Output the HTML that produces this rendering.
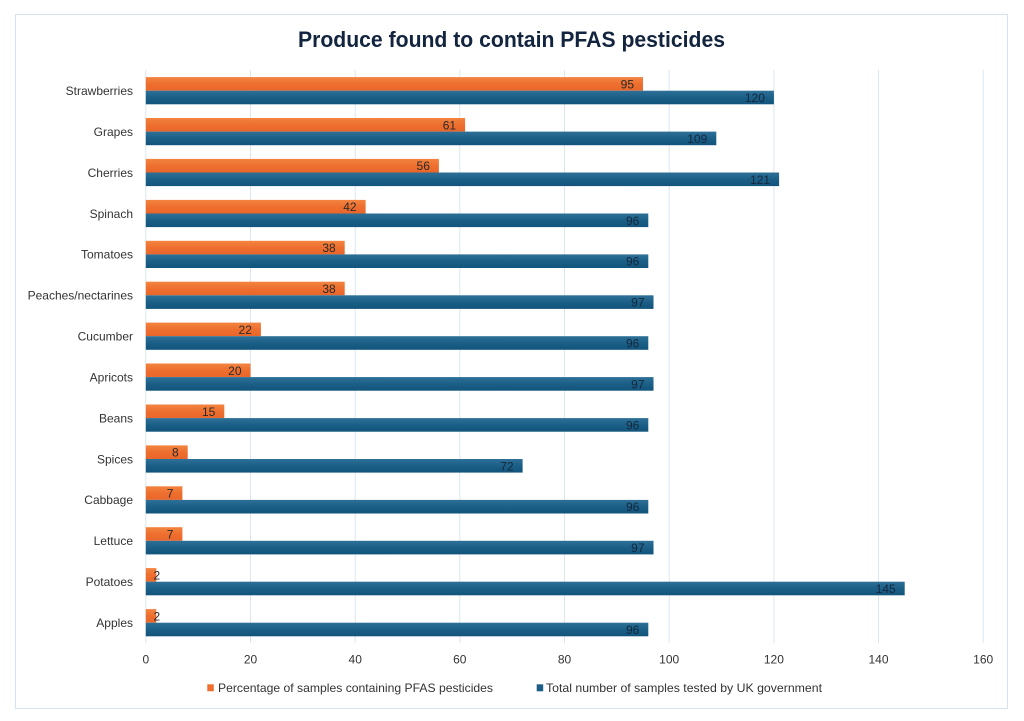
<!DOCTYPE html>
<html>
<head>
<meta charset="utf-8">
<style>
  html,body{margin:0;padding:0;background:#fff;}
  svg{display:block;}
  text{font-family:"Liberation Sans",Arial,sans-serif;}
</style>
</head>
<body>
<svg width="1024" height="721" viewBox="0 0 1024 721" xmlns="http://www.w3.org/2000/svg">
  <defs>
    <linearGradient id="og" x1="0" y1="0" x2="0" y2="1">
      <stop offset="0" stop-color="#F3843F"/>
      <stop offset="0.5" stop-color="#EE6F2F"/>
      <stop offset="1" stop-color="#E9662A"/>
    </linearGradient>
    <linearGradient id="bg" x1="0" y1="0" x2="0" y2="1">
      <stop offset="0" stop-color="#2E7097"/>
      <stop offset="0.5" stop-color="#1B5F87"/>
      <stop offset="1" stop-color="#12547B"/>
    </linearGradient>
  </defs>
  <rect x="0" y="0" width="1024" height="721" fill="#fff"/>
  <rect x="15.5" y="14.5" width="992" height="694" fill="#fff" stroke="#d8e2ec" stroke-width="1"/>

  <text x="511.5" y="47" text-anchor="middle" font-size="22" font-weight="bold" fill="#13243f" textLength="427" lengthAdjust="spacingAndGlyphs">Produce found to contain PFAS pesticides</text>

  <!-- gridlines -->
  <g stroke="#dce6f0" stroke-width="1">
    <line x1="145.8" y1="70" x2="145.8" y2="643"/>
    <line x1="250.5" y1="70" x2="250.5" y2="643"/>
    <line x1="355.2" y1="70" x2="355.2" y2="643"/>
    <line x1="459.8" y1="70" x2="459.8" y2="643"/>
    <line x1="564.5" y1="70" x2="564.5" y2="643"/>
    <line x1="669.2" y1="70" x2="669.2" y2="643"/>
    <line x1="773.9" y1="70" x2="773.9" y2="643"/>
    <line x1="878.5" y1="70" x2="878.5" y2="643"/>
    <line x1="983.2" y1="70" x2="983.2" y2="643"/>
  </g>

  <!-- tick labels -->
  <g font-size="12" fill="#333" text-anchor="middle">
    <text x="145.8" y="663.5">0</text>
    <text x="250.5" y="663.5">20</text>
    <text x="355.2" y="663.5">40</text>
    <text x="459.8" y="663.5">60</text>
    <text x="564.5" y="663.5">80</text>
    <text x="669.2" y="663.5">100</text>
    <text x="773.9" y="663.5">120</text>
    <text x="878.5" y="663.5">140</text>
    <text x="983.2" y="663.5">160</text>
  </g>

  <!-- category labels -->
  <g font-size="12" fill="#333" text-anchor="end">
    <text x="133" y="95">Strawberries</text>
    <text x="133" y="135.9">Grapes</text>
    <text x="133" y="176.8">Cherries</text>
    <text x="133" y="217.8">Spinach</text>
    <text x="133" y="258.7">Tomatoes</text>
    <text x="133" y="299.6">Peaches/nectarines</text>
    <text x="133" y="340.5">Cucumber</text>
    <text x="133" y="381.4">Apricots</text>
    <text x="133" y="422.4">Beans</text>
    <text x="133" y="463.3">Spices</text>
    <text x="133" y="504.2">Cabbage</text>
    <text x="133" y="545.1">Lettuce</text>
    <text x="133" y="586">Potatoes</text>
    <text x="133" y="627">Apples</text>
  </g>

  <!-- orange bars -->
  <g fill="url(#og)">
    <rect x="145.8" y="77.1" width="497.2" height="13.6"/>
    <rect x="145.8" y="118.0" width="319.3" height="13.6"/>
    <rect x="145.8" y="158.9" width="293.1" height="13.6"/>
    <rect x="145.8" y="199.9" width="219.8" height="13.6"/>
    <rect x="145.8" y="240.8" width="198.9" height="13.6"/>
    <rect x="145.8" y="281.7" width="198.9" height="13.6"/>
    <rect x="145.8" y="322.6" width="115.1" height="13.6"/>
    <rect x="145.8" y="363.5" width="104.7" height="13.6"/>
    <rect x="145.8" y="404.5" width="78.5" height="13.6"/>
    <rect x="145.8" y="445.4" width="41.9" height="13.6"/>
    <rect x="145.8" y="486.3" width="36.6" height="13.6"/>
    <rect x="145.8" y="527.2" width="36.6" height="13.6"/>
    <rect x="145.8" y="568.1" width="10.5" height="13.6"/>
    <rect x="145.8" y="609.1" width="10.5" height="13.6"/>
  </g>

  <!-- blue bars -->
  <g fill="url(#bg)">
    <rect x="145.8" y="90.7" width="628.1" height="13.6"/>
    <rect x="145.8" y="131.6" width="570.5" height="13.6"/>
    <rect x="145.8" y="172.5" width="633.3" height="13.6"/>
    <rect x="145.8" y="213.5" width="502.5" height="13.6"/>
    <rect x="145.8" y="254.4" width="502.5" height="13.6"/>
    <rect x="145.8" y="295.3" width="507.7" height="13.6"/>
    <rect x="145.8" y="336.2" width="502.5" height="13.6"/>
    <rect x="145.8" y="377.1" width="507.7" height="13.6"/>
    <rect x="145.8" y="418.1" width="502.5" height="13.6"/>
    <rect x="145.8" y="459.0" width="376.8" height="13.6"/>
    <rect x="145.8" y="499.9" width="502.5" height="13.6"/>
    <rect x="145.8" y="540.8" width="507.7" height="13.6"/>
    <rect x="145.8" y="581.7" width="758.9" height="13.6"/>
    <rect x="145.8" y="622.7" width="502.5" height="13.6"/>
  </g>

  <!-- orange value labels -->
  <g font-size="12" fill="#2a2a2a" text-anchor="end">
    <text x="634" y="88.4">95</text>
    <text x="456.1" y="129.3">61</text>
    <text x="429.9" y="170.2">56</text>
    <text x="356.6" y="211.2">42</text>
    <text x="335.7" y="252.1">38</text>
    <text x="335.7" y="293">38</text>
    <text x="251.9" y="333.9">22</text>
    <text x="241.5" y="374.8">20</text>
    <text x="215.3" y="415.8">15</text>
    <text x="178.7" y="456.7">8</text>
    <text x="173.4" y="497.6">7</text>
    <text x="173.4" y="538.5">7</text>
  </g>
  <g font-size="12" fill="#2a2a2a" text-anchor="start">
    <text x="153.5" y="579.4">2</text>
    <text x="153.5" y="620.4">2</text>
  </g>

  <!-- blue value labels -->
  <g font-size="12" fill="#14283d" text-anchor="end">
    <text x="764.9" y="102">120</text>
    <text x="707.3" y="142.9">109</text>
    <text x="770.1" y="183.8">121</text>
    <text x="639.3" y="224.8">96</text>
    <text x="639.3" y="265.7">96</text>
    <text x="644.5" y="306.6">97</text>
    <text x="639.3" y="347.5">96</text>
    <text x="644.5" y="388.4">97</text>
    <text x="639.3" y="429.4">96</text>
    <text x="513.6" y="470.3">72</text>
    <text x="639.3" y="511.2">96</text>
    <text x="644.5" y="552.1">97</text>
    <text x="895.7" y="593">145</text>
    <text x="639.3" y="634">96</text>
  </g>

  <!-- legend -->
  <rect x="207.3" y="684.3" width="6.5" height="7" fill="#EE6F2F"/>
  <text x="218" y="692" font-size="12" fill="#333" textLength="275" lengthAdjust="spacingAndGlyphs">Percentage of samples containing PFAS pesticides</text>
  <rect x="536.7" y="684.3" width="6.5" height="7" fill="#1B5F87"/>
  <text x="546" y="692" font-size="12" fill="#333" textLength="276" lengthAdjust="spacingAndGlyphs">Total number of samples tested by UK government</text>
</svg>
</body>
</html>
